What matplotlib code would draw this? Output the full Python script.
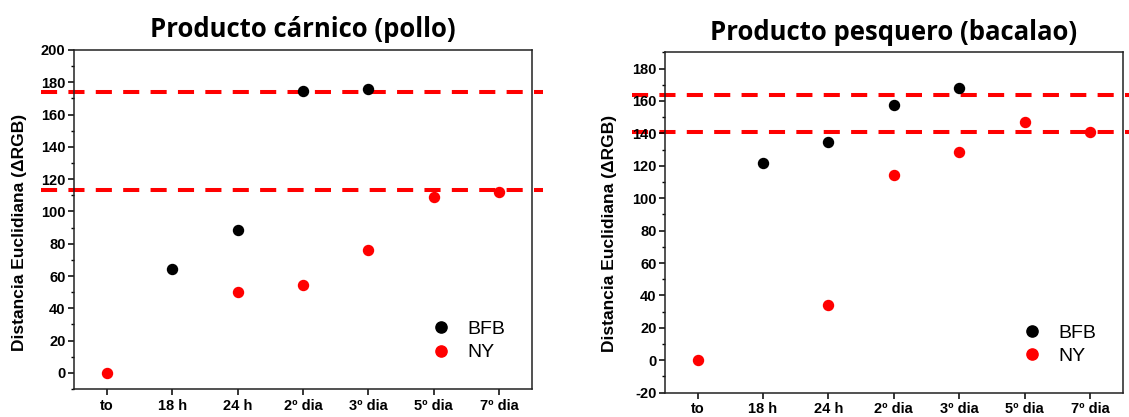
import matplotlib
matplotlib.use("Agg")
import matplotlib.pyplot as plt
import numpy as np

categories = ["to", "18 h", "24 h", "2º dia", "3º dia", "5º dia", "7º dia"]

# Producto cárnico (pollo)
pollo_bfb_x = ["18 h", "24 h", "2º dia", "3º dia"]
pollo_bfb_y = [64.6, 88.7, 174.3, 176.0]
pollo_ny_x = ["to", "24 h", "2º dia", "3º dia", "5º dia", "7º dia"]
pollo_ny_y = [0.0, 50.0, 54.7, 76.0, 108.8, 112.0]
pollo_thresholds = [174.0, 113.4]

# Producto pesquero (bacalao)
bacalao_bfb_x = ["18 h", "24 h", "2º dia", "3º dia"]
bacalao_bfb_y = [121.4, 134.4, 157.3, 167.8]
bacalao_ny_x = ["to", "24 h", "2º dia", "3º dia", "5º dia", "7º dia"]
bacalao_ny_y = [0.0, 34.4, 114.6, 128.4, 147.2, 141.1]
bacalao_thresholds = [163.9, 140.6]

titles = ["Producto cárnico (pollo)", "Producto pesquero (bacalao)"]
ylabel = "Distancia Euclidiana (\u0394RGB)"

plt.rcParams['font.family'] = ['Liberation Sans', 'DejaVu Sans']
plt.rcParams['axes.unicode_minus'] = False

fig = plt.figure(figsize=(11.29, 4.17), dpi=100)
ax1 = fig.add_axes([0.0655, 0.0671, 0.4057, 0.813])
ax2 = fig.add_axes([0.589, 0.0583, 0.4053, 0.8163])

idx = {c: i for i, c in enumerate(categories)}

def draw(ax, bfb_x, bfb_y, ny_x, ny_y, thr, ylim, yticks, title, xext, lab_xy):
    for t in thr:
        ax.plot(xext, [t, t], color='#ff0000', lw=2.9, dashes=(4, 2.8),
                clip_on=False, zorder=1)
    ax.plot([idx[c] for c in bfb_x], bfb_y, 'o', color='black', ms=7.2,
            label='BFB', zorder=3, clip_on=False)
    ax.plot([idx[c] for c in ny_x], ny_y, 'o', color='#ff0000', ms=7.2,
            label='NY', zorder=3, clip_on=False)
    ax.set_xticks(range(len(categories)))
    ax.set_xticklabels(categories, fontweight='bold', fontsize=10.5)
    ax.set_yticks(yticks)
    minor = np.arange(ylim[0], ylim[1] + 0.1, 10)
    ax.set_yticks(minor, minor=True)
    ax.set_xlim(-0.5, 6.5)
    ax.set_ylim(*ylim)
    ax.tick_params(axis='y', which='major', labelsize=10.5, length=4, width=1.1, direction='out', pad=2)
    ax.tick_params(axis='y', which='minor', length=2.5, width=1.0, direction='out')
    ax.tick_params(axis='x', which='major', length=4, width=1.1, direction='out', pad=3)
    for lab in ax.get_yticklabels():
        lab.set_fontweight('bold')
    for s in ax.spines.values():
        s.set_linewidth(1.1)
        s.set_color('#222222')
    ax.set_ylabel(ylabel, fontweight='bold', fontsize=12.5)
    ax.yaxis.set_label_coords(*lab_xy)
    ax.set_title(title, fontsize=18.5, fontweight='bold', family='Open Sans', pad=9)
    ax.legend(loc='lower right', bbox_to_anchor=(0.98, 0.03), frameon=False,
              fontsize=14, markerscale=1.12, handletextpad=0.6,
              labelspacing=0.3, handlelength=1.5)

draw(ax1, pollo_bfb_x, pollo_bfb_y, pollo_ny_x, pollo_ny_y, pollo_thresholds,
     (-10, 200), np.arange(0, 201, 20), titles[0], [-1.0, 6.67], (-0.103, 0.463))
draw(ax2, bacalao_bfb_x, bacalao_bfb_y, bacalao_ny_x, bacalao_ny_y, bacalao_thresholds,
     (-20, 190), np.arange(-20, 181, 20), titles[1], [-1.0, 7.0], (-0.105, 0.469))

fig.savefig("out.png", dpi=100)
